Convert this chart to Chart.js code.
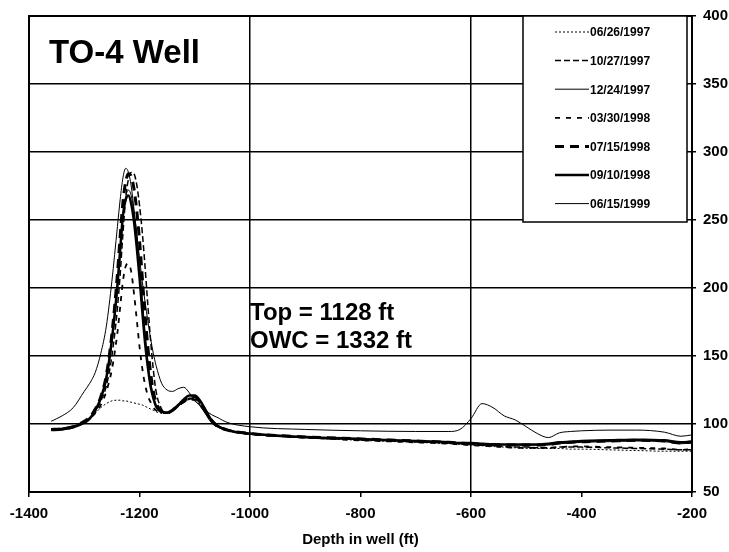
<!DOCTYPE html>
<html>
<head>
<meta charset="utf-8">
<script src="https://cdn.jsdelivr.net/npm/chart.js@4.4.1/dist/chart.umd.min.js"></script>
<style>
  html, body { margin: 0; padding: 0; background: #fff; }
  canvas { display: block; }
</style>
</head>
<body>
<canvas id="well-chart" width="729" height="552"></canvas>
<script>
// depth in well (ft), shared by all surveys
var depth = [-1360,-1340,-1320,-1300,-1290,-1280,-1270,-1260,-1250,-1240,-1235,-1230,-1225,-1220,-1215,-1210,-1205,-1200,-1195,-1190,-1185,-1180,-1175,-1170,-1160,-1150,-1140,-1130,-1120,-1110,-1100,-1090,-1080,-1070,-1060,-1040,-1000,-900,-800,-700,-640,-620,-600,-580,-560,-540,-520,-500,-480,-460,-440,-420,-400,-350,-300,-250,-220,-200];

var s_0626_1997 = [96,96.5,98,101,104,108,112,115,117,117.5,117.5,117,117,116.5,116,115.5,115,114.5,114,113,112,111,110,109,108,108,110,113,116,118,118,114,108,102,98.5,95.5,93,90,88,86.5,85.5,85,84.5,84,83.5,83,82.5,82,82,82,82,81.5,81.5,81,80.5,80,80,80];
var s_1027_1997 = [96,96.5,98,101,104,109,117,128,150,185,210,240,266,280,285,284,276,261,241,216,188,162,140,124,111,108,110,113,116,119,119,115,108,102,98.5,95.5,93,90,88.5,87,86,85.5,85,84.5,84,83.5,83,83,82.5,82.5,83,83,83,82.5,82,81.5,81,81];
var s_1224_1997 = [96,97,98.5,102,105,110,119,133,160,198,224,251,267,272,268,256,240,218,193,168,147,131,121,114,109,108,110,113,116,118,117,113,107,101,98,95,92.5,90,88.5,87,86.5,86,86,85.5,85,85,84.5,84.5,84.5,84.5,85.5,86,86.5,87,87.5,87,85.5,86];
var s_0330_1998 = [96,96.5,98,101,104,108,114,124,140,167,186,205,216,218,212,196,177,157,141,129,121,116,112,110,108,108,110,113,116,118,118,114,108,102,98,95,92.5,90,88,86.5,85.5,85,84.5,84,83.5,83,82.5,82.5,82.5,82.5,83,83.5,83.5,83,82.5,82,81,81.5];
var s_0715_1998 = [96,96.5,98,102,105,111,120,136,166,210,238,263,278,284,282,273,257,235,208,181,157,138,124,116,109,108,110,114,117,120,120,116,109,103,99,95.5,93,90.5,89,87.5,86.5,86,85.5,85,85,84.5,84.5,84.5,84.5,85,86,86.5,87,87.5,88,87.5,86,87];
var s_0910_1998 = [95.5,96,97.5,101,104,110,119,134,162,202,228,253,265,268,262,249,230,208,183,160,142,128,119,113,109,108.5,110.5,114,118,121,121,117,110,103,99,95.5,93,90.5,89,87.5,86.5,86,86,85.5,85,85,85,85,85,85.5,86.5,87,87.5,88,88.5,88,86.5,87];
var s_0615_1999 = [102,106,112,124,130,138,152,172,205,245,265,281,288,285,275,258,240,222,205,190,176,163,152,143,130,125,124,126,127,123,117,114,110,107,105,101,98,96,95,94.5,94.5,96,104,115,112,106,103,98,93,90,93.5,94.5,95,95.5,95.5,94,91,92];

var surveyDates = ["06/26/1997","10/27/1997","12/24/1997","03/30/1998","07/15/1998","09/10/1998","06/15/1999"];
var surveyValues = [s_0626_1997, s_1027_1997, s_1224_1997, s_0330_1998, s_0715_1998, s_0910_1998, s_0615_1999];
var lineWidths = [1, 1.5, 1, 1.8, 3, 2.5, 1];
var lineDashes = [[2,2], [6,3], [], [5,6], [9,6], [], []];

var xTicks = [-1400,-1200,-1000,-800,-600,-400,-200];
var yTicks = [50,100,150,200,250,300,350,400];
var xGridAt = [-1000, -600];

var datasets = surveyDates.map(function(d, i) {
  return {
    label: d,
    data: depth.map(function(x, j) { return {x: x, y: surveyValues[i][j]}; }),
    borderColor: "black",
    borderWidth: lineWidths[i],
    borderDash: lineDashes[i],
    fill: false,
    pointRadius: 0,
    cubicInterpolationMode: "monotone"
  };
});

var FONT = "'Liberation Sans', Arial, sans-serif";

// frame, text notes and the boxed legend
var overlay = {
  id: "overlay",
  afterDraw: function(chart) {
    var c = chart.ctx, a = chart.chartArea;
    c.save();
    c.strokeStyle = "black";
    c.lineWidth = 2;
    c.strokeRect(a.left, a.top, a.right - a.left, a.bottom - a.top);

    c.fillStyle = "black";
    c.textBaseline = "alphabetic";
    c.font = "bold 33px " + FONT;
    c.fillText("TO-4 Well", 49, 63);
    c.font = "bold 24px " + FONT;
    c.fillText("Top = 1128 ft", 250, 320);
    c.fillText("OWC = 1332 ft", 250, 348);

    // legend box
    var lx = 523, ly = a.top, lw = 164, lh = 206;
    c.fillStyle = "white";
    c.fillRect(lx, ly, lw, lh);
    c.lineWidth = 1.5;
    c.strokeRect(lx, ly, lw, lh);
    c.font = "bold 12px " + FONT;
    c.textBaseline = "middle";
    chart.data.datasets.forEach(function(ds, i) {
      var y = ly + 16 + i * 28.6;
      c.beginPath();
      c.setLineDash(ds.borderDash);
      c.lineWidth = ds.borderWidth;
      c.moveTo(555, y);
      c.lineTo(589, y);
      c.stroke();
      c.setLineDash([]);
      c.fillStyle = "black";
      c.fillText(ds.label, 590, y + 1);
    });
    c.restore();
  }
};

var ctx = document.getElementById("well-chart");
var wellChart = new Chart(ctx, {
  type: "line",
  data: { datasets: datasets },
  options: {
    responsive: false,
    animation: false,
    devicePixelRatio: 1,
    layout: { padding: { left: 29, top: 16, right: 0, bottom: 0 } },
    plugins: { legend: { display: false }, tooltip: { enabled: false } },
    scales: {
      x: {
        type: "linear",
        min: -1400, max: -200,
        afterBuildTicks: function(s) { s.ticks = xTicks.map(function(v) { return {value: v}; }); },
        afterFit: function(s) { s.height = 60; },
        ticks: {
          color: "black", font: { family: FONT, size: 15, weight: "bold" }, padding: 8, maxRotation: 0,
          callback: function(v) { return String(v); }
        },
        grid: {
          color: function(c) { return xGridAt.indexOf(c.tick && c.tick.value) >= 0 ? "black" : "rgba(0,0,0,0)"; },
          lineWidth: 1.5,
          tickColor: "black",
          tickLength: 5
        },
        border: { color: "black", width: 2 },
        title: { display: true, text: "Depth in well (ft)", color: "black", font: { family: FONT, size: 15, weight: "bold" }, padding: { top: 0, bottom: 3 } }
      },
      y: {
        position: "right",
        min: 50, max: 400,
        afterBuildTicks: function(s) { s.ticks = yTicks.map(function(v) { return {value: v}; }); },
        afterFit: function(s) { s.width = 37; },
        ticks: {
          color: "black", font: { family: FONT, size: 15, weight: "bold" }, padding: 7,
          callback: function(v) { return String(v); }
        },
        grid: { color: "black", lineWidth: 1.5, tickColor: "black", tickLength: 4 },
        border: { color: "black", width: 2 }
      }
    }
  },
  plugins: [overlay]
});
</script>
</body>
</html>
